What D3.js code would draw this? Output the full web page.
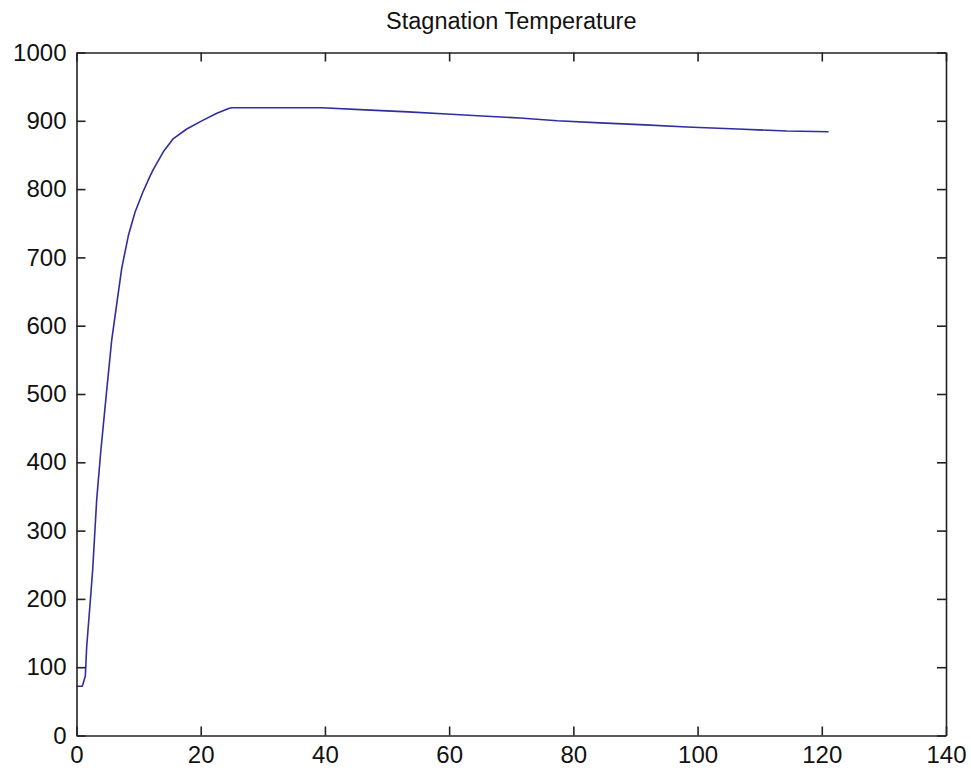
<!DOCTYPE html>
<html>
<head>
<meta charset="utf-8">
<script src="https://cdn.jsdelivr.net/npm/d3@7"></script>
<style>
  html, body { margin: 0; padding: 0; background: #fff; }
  svg { display: block; }
  text { font-family: "Liberation Sans", Arial, Helvetica, sans-serif; fill: #111; }
</style>
</head>
<body>
<svg id="chart" width="971" height="773"></svg>
<script>
// Stagnation temperature vs. time
const titleText = "Stagnation Temperature";
const timeValues = [0, 0.9, 1.0, 1.42, 1.64, 2.17, 2.6, 3.25, 3.9, 4.87, 5.67, 6.48, 7.28, 8.35, 9.42, 10.66, 11.84, 12.37, 14, 15.6, 17.75, 20.4, 22.6, 24.5, 25, 39.5, 46.5, 53.4, 59.6, 65.3, 71.4, 77.4, 84.3, 91.6, 98.3, 106.4, 114.4, 121.1];
const tempValues = [72, 72, 74, 87, 130, 191, 242, 345, 415, 506, 579, 632, 684, 732, 766, 795, 819, 829, 855, 874, 888, 901, 911, 918, 919, 919, 916, 913, 910, 907, 904, 900, 897, 894, 891, 888, 885, 884];
const xTicks = [0, 20, 40, 60, 80, 100, 120, 140];
const yTicks = [0, 100, 200, 300, 400, 500, 600, 700, 800, 900, 1000];

const svg = d3.select("#chart");
const plotLeft = 76.5, plotRight = 946, plotTop = 52.5, plotBottom = 735.5;
const tickLen = 9;

const x = d3.scaleLinear().domain([0, 140]).range([plotLeft, plotRight]);
const y = d3.scaleLinear().domain([0, 1000]).range([plotBottom, plotTop]);

// data line
const points = timeValues.map((t, i) => [t, tempValues[i]]);
svg.append("path")
  .datum(points)
  .attr("fill", "none")
  .attr("stroke", "#2e2e9e")
  .attr("stroke-width", 1.6)
  .attr("stroke-linejoin", "round")
  .attr("d", d3.line().x(d => x(d[0])).y(d => y(d[1])));

// axes: labelled bottom/left, mirrored tick marks on top/right, all inward
const axisColor = "#222";
const styleAxis = g => {
  g.select(".domain").attr("stroke", axisColor).attr("stroke-width", 1.6);
  g.selectAll(".tick line").attr("stroke", axisColor).attr("stroke-width", 1.6);
  g.selectAll(".tick text")
    .style("font-family", '"Liberation Sans", Arial, sans-serif')
    .style("font-size", "24px")
    .attr("fill", "#111");
};

svg.append("g")
  .attr("transform", `translate(0,${plotBottom})`)
  .call(d3.axisBottom(x).tickValues(xTicks).tickFormat(d3.format("d"))
    .tickSizeInner(-tickLen).tickSizeOuter(0).tickPadding(10))
  .call(styleAxis);

svg.append("g")
  .attr("transform", `translate(0,${plotTop})`)
  .call(d3.axisTop(x).tickValues(xTicks).tickFormat("")
    .tickSizeInner(-tickLen).tickSizeOuter(0))
  .call(styleAxis);

svg.append("g")
  .attr("transform", `translate(${plotLeft},0)`)
  .call(d3.axisLeft(y).tickValues(yTicks).tickFormat(d3.format("d"))
    .tickSizeInner(-tickLen).tickSizeOuter(0).tickPadding(10))
  .call(styleAxis);

svg.append("g")
  .attr("transform", `translate(${plotRight},0)`)
  .call(d3.axisRight(y).tickValues(yTicks).tickFormat("")
    .tickSizeInner(-tickLen).tickSizeOuter(0))
  .call(styleAxis);

// title
svg.append("text")
  .attr("x", (plotLeft + plotRight) / 2)
  .attr("y", 29)
  .attr("text-anchor", "middle")
  .style("font-size", "23.5px")
  .text(titleText);
</script>
</body>
</html>
